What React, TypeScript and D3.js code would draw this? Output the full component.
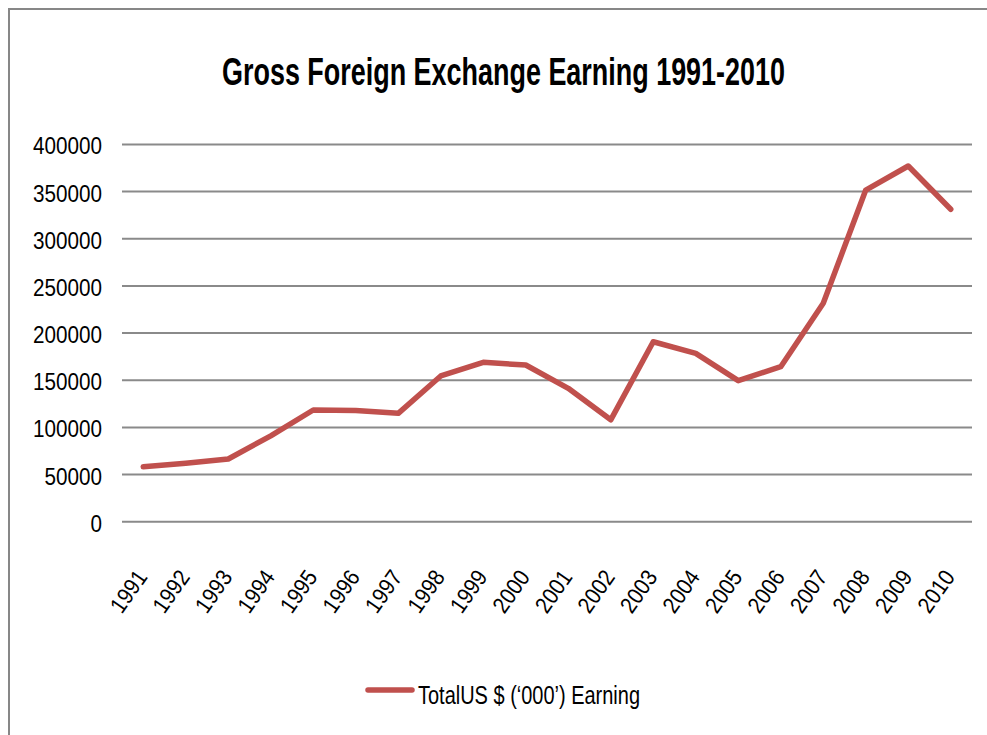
import React from "react";
import * as d3 from "d3";

const years = ["1991","1992","1993","1994","1995","1996","1997","1998","1999","2000","2001","2002","2003","2004","2005","2006","2007","2008","2009","2010"];
const earnings = [58300, 61900, 66500, 91000, 118400, 117900, 114900, 154500, 169000, 166100, 141400, 108000, 190800, 178500, 149500, 164300, 231500, 351600, 377100, 331200];
const yTicks = [0, 50000, 100000, 150000, 200000, 250000, 300000, 350000, 400000];
const title = "Gross Foreign Exchange Earning 1991-2010";
const seriesName = "TotalUS $ (\u2018000\u2019) Earning";

const FONT = "'Liberation Sans Narrow', 'Liberation Sans', Arial, sans-serif";

export default function App() {
  const W = 987, H = 735;
  const left = 122, right = 972, top = 144.4, bottom = 521.7;
  const x = d3.scaleBand<string>().domain(years).range([left, right]);
  const y = d3.scaleLinear().domain([0, 400000]).range([bottom, top]);
  const line = d3.line<number>()
    .x((_, i) => (x(years[i]) as number) + x.bandwidth() / 2)
    .y(d => y(d));
  return (
    <svg width={W} height={H} style={{ position: "absolute", left: 0, top: 0, background: "#fff" }}>
      <rect x={0} y={0} width={W} height={H} fill="#fff" />
      <rect x={9} y={9} width={1100} height={1000} fill="#fff" stroke="#878787" strokeWidth={2} />
      <text x={503.5} y={85} textAnchor="middle" fontFamily={FONT} fontWeight="bold" fontSize={38}
        textLength={563} lengthAdjust="spacingAndGlyphs" fill="#000">{title}</text>
      {yTicks.map(t => (
        <g key={t}>
          <line x1={left} x2={right} y1={y(t)} y2={y(t)} stroke="#8a8a8a" strokeWidth={2} />
          <text x={102} y={y(t) + 10} textAnchor="end" fontFamily={FONT} fontSize={24} fill="#000"
            textLength={String(t).length * 11.5} lengthAdjust="spacingAndGlyphs">{t}</text>
        </g>
      ))}
      {years.map(yr => {
        const cx = (x(yr) as number) + x.bandwidth() / 2;
        return (
          <text key={yr} transform={`translate(${cx + 5},577) rotate(-55)`} textAnchor="end"
            fontFamily={FONT} fontSize={23} fill="#000" textLength={46} lengthAdjust="spacingAndGlyphs">{yr}</text>
        );
      })}
      <path d={line(earnings) || ""} fill="none" stroke="#C0504D" strokeWidth={5.5}
        strokeLinejoin="round" strokeLinecap="round" />
      <line x1={368} x2={412} y1={690} y2={690} stroke="#C0504D" strokeWidth={5.5} strokeLinecap="round" />
      <text x={418} y={704} fontFamily={FONT} fontSize={25} fill="#000"
        textLength={222} lengthAdjust="spacingAndGlyphs">{seriesName}</text>
    </svg>
  );
}
